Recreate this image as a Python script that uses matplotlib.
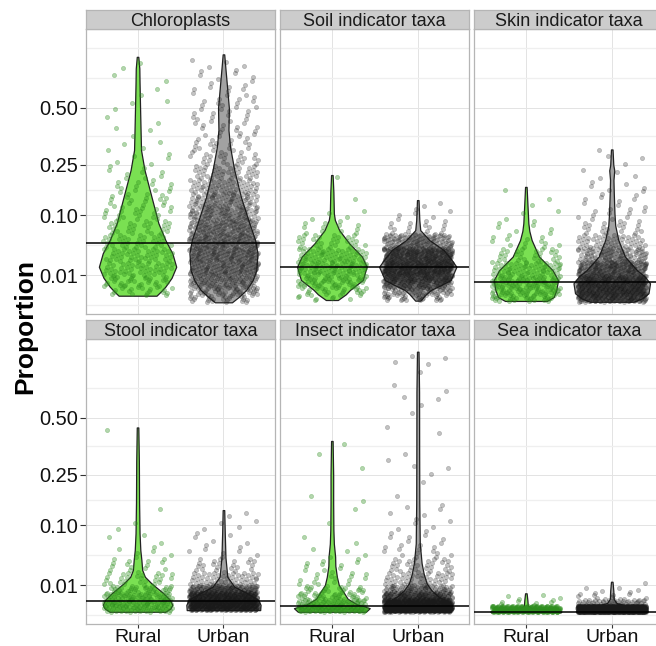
import numpy as np
import matplotlib.pyplot as plt
from matplotlib.ticker import FixedLocator

plt.rcParams['font.family'] = ['Liberation Sans', 'DejaVu Sans']

# facets / groups
facets = ['Chloroplasts', 'Soil indicator taxa', 'Skin indicator taxa',
          'Stool indicator taxa', 'Insect indicator taxa', 'Sea indicator taxa']
groups = ['Rural', 'Urban']
y_ticks = [0.01, 0.10, 0.25, 0.50]
y_tick_labels = ['0.01', '0.10', '0.25', '0.50']

# horizontal reference line (overall median) per facet
facet_median = [0.0462, 0.0169, 0.00543, 0.00177, 0.000625, 0.000004]

# abundance bins (proportion) and number of samples falling in each bin
bin_edges = [0, 0.000625, 0.0025, 0.005625, 0.01, 0.0225, 0.04, 0.0625, 0.09,
             0.1225, 0.16, 0.2025, 0.25, 0.3025, 0.36, 0.4225, 0.49, 0.5625,
             0.64, 0.7225, 0.81, 0.9025]

chloro_rural_n = [0, 14, 17, 19, 44, 42, 33, 26, 21, 17, 13, 9, 5, 4, 3, 2, 3, 2, 2, 2, 0]
chloro_urban_n = [22, 34, 45, 51, 113, 117, 110, 96, 81, 63, 50, 39, 24, 18, 14, 14, 13, 10, 7, 4, 0]
soil_rural_n = [7, 17, 27, 32, 70, 55, 29, 12, 4, 1, 0, 1, 0, 0, 0, 0, 0, 0, 0, 0, 0]
soil_urban_n = [20, 43, 86, 122, 290, 236, 110, 15, 6, 2, 0, 0, 0, 0, 0, 0, 0, 0, 0, 0, 0]
skin_rural_n = [25, 38, 40, 39, 60, 28, 13, 7, 3, 2, 1, 0, 0, 0, 0, 0, 0, 0, 0, 0, 0]
skin_urban_n = [110, 148, 149, 130, 173, 86, 47, 20, 12, 8, 6, 4, 3, 1, 0, 0, 0, 0, 0, 0, 0]
stool_rural_n = [52, 59, 47, 31, 28, 14, 6, 3, 2, 1, 0, 0, 0, 0, 0, 1, 0, 0, 0, 0, 0]
stool_urban_n = [175, 267, 200, 104, 50, 22, 8, 5, 4, 2, 0, 0, 0, 0, 0, 0, 0, 0, 0, 0, 0]
insect_rural_n = [100, 55, 30, 20, 16, 10, 4, 2, 1, 1, 2, 0, 1, 1, 1, 0, 0, 0, 0, 0, 0]
insect_urban_n = [330, 280, 130, 60, 45, 30, 14, 8, 5, 5, 1, 1, 3, 2, 0, 2, 1, 3, 2, 1, 4]
sea_rural_n = [250, 8, 3, 0, 0, 0, 0, 0, 0, 0, 0, 0, 0, 0, 0, 0, 0, 0, 0, 0, 0]
sea_urban_n = [880, 55, 10, 4, 1, 0, 0, 0, 0, 0, 0, 0, 0, 0, 0, 0, 0, 0, 0, 0, 0]

# violin density profiles: levels (proportion) and relative width (1 = full width)
chloro_rural_lv = [0.000625, 0.0016, 0.003364, 0.0081, 0.0169, 0.03204, 0.05153, 0.08294,
                   0.1475, 0.2314, 0.3069, 0.3919, 0.4998, 0.6336, 0.7225, 0.7957]
chloro_rural_w = [0.49, 0.60, 0.72, 0.88, 1.0, 0.90, 0.72, 0.54, 0.36, 0.18, 0.09, 0.078,
                  0.065, 0.052, 0.046, 0.02]
chloro_urban_lv = [0.000001, 0.0004, 0.002116, 0.0064, 0.01392, 0.03204, 0.05153, 0.08294,
                   0.1475, 0.2314, 0.3204, 0.3919, 0.4998, 0.6336, 0.7327, 0.8118]
chloro_urban_w = [0.22, 0.39, 0.59, 0.75, 0.85, 0.88, 0.82, 0.67, 0.45, 0.28, 0.17, 0.13,
                  0.14, 0.085, 0.047, 0.02]
soil_rural_lv = [0.0000884, 0.0009, 0.002116, 0.006724, 0.0169, 0.02789, 0.04623, 0.06917,
                 0.09, 0.105, 0.16, 0.2144]
soil_rural_w = [0.155, 0.36, 0.47, 0.80, 0.90, 0.78, 0.45, 0.19, 0.078, 0.052, 0.04, 0.02]
soil_urban_lv = [0.000049, 0.0009, 0.002116, 0.004225, 0.006724, 0.0169, 0.0256, 0.03648,
                 0.05153, 0.06917, 0.09, 0.1384]
soil_urban_w = [0.065, 0.21, 0.34, 0.62, 0.85, 1.0, 0.85, 0.67, 0.30, 0.065, 0.04, 0.02]
skin_rural_lv = [0.000036, 0.0004, 0.002116, 0.006724, 0.01392, 0.02789, 0.05153, 0.0676,
                 0.08294, 0.1211, 0.1764]
skin_rural_w = [0.54, 0.72, 0.79, 0.83, 0.69, 0.34, 0.15, 0.09, 0.065, 0.044, 0.02]
skin_urban_lv = [0.000009, 0.000225, 0.001156, 0.0049, 0.009025, 0.01392, 0.02789, 0.05153,
                 0.0784, 0.105, 0.16, 0.198, 0.2304, 0.25, 0.3091]
skin_urban_w = [0.56, 0.78, 0.95, 0.99, 0.85, 0.65, 0.34, 0.17, 0.09, 0.07, 0.052, 0.044,
                0.065, 0.04, 0.02]
stool_rural_lv = [0.000009, 0.000225, 0.000784, 0.002116, 0.0049, 0.01124, 0.0169, 0.02403,
                  0.0361, 0.05153, 0.08294, 0.16, 0.3025, 0.4516]
stool_rural_w = [0.72, 0.85, 0.90, 0.84, 0.67, 0.36, 0.19, 0.12, 0.10, 0.072, 0.052, 0.04,
                 0.034, 0.02]
stool_urban_lv = [0.000081, 0.000784, 0.002116, 0.0049, 0.008836, 0.0169, 0.04, 0.08294, 0.1384]
stool_urban_w = [0.95, 0.96, 0.90, 0.62, 0.28, 0.10, 0.052, 0.034, 0.02]
insect_rural_lv = [0.000009, 0.000256, 0.0009, 0.0025, 0.0049, 0.01, 0.0169, 0.0289,
                   0.04121, 0.0625, 0.09, 0.16, 0.25, 0.3881]
insect_rural_w = [0.88, 0.98, 0.65, 0.41, 0.32, 0.18, 0.13, 0.09, 0.085, 0.052, 0.04, 0.034,
                  0.034, 0.02]
insect_urban_lv = [0.000009, 0.000256, 0.001156, 0.003364, 0.0064, 0.01124, 0.0196, 0.03204,
                   0.063, 0.16, 0.36, 0.64, 0.8968]
insect_urban_w = [0.85, 0.90, 0.85, 0.54, 0.36, 0.23, 0.155, 0.10, 0.052, 0.04, 0.036, 0.034,
                  0.02]
sea_rural_lv = [0.00000025, 0.000016, 0.000064, 0.000144, 0.000256, 0.000625, 0.002025, 0.0049]
sea_rural_w = [0.90, 0.92, 0.85, 0.50, 0.15, 0.05, 0.04, 0.02]
sea_urban_lv = [0.00000025, 0.000025, 0.000144, 0.0004, 0.000784, 0.001225, 0.0025, 0.0064,
                0.01254]
sea_urban_w = [0.90, 0.93, 0.88, 0.60, 0.30, 0.12, 0.05, 0.04, 0.02]

counts = [(chloro_rural_n, chloro_urban_n), (soil_rural_n, soil_urban_n),
          (skin_rural_n, skin_urban_n), (stool_rural_n, stool_urban_n),
          (insect_rural_n, insect_urban_n), (sea_rural_n, sea_urban_n)]
profiles = [((chloro_rural_lv, chloro_rural_w), (chloro_urban_lv, chloro_urban_w)),
            ((soil_rural_lv, soil_rural_w), (soil_urban_lv, soil_urban_w)),
            ((skin_rural_lv, skin_rural_w), (skin_urban_lv, skin_urban_w)),
            ((stool_rural_lv, stool_rural_w), (stool_urban_lv, stool_urban_w)),
            ((insect_rural_lv, insect_rural_w), (insect_urban_lv, insect_urban_w)),
            ((sea_rural_lv, sea_rural_w), (sea_urban_lv, sea_urban_w))]

violin_fill = ['#7ae052', '#a2a2a2']
point_col = ['#2f8f1f', '#1a1a1a']
point_alpha = [0.36, 0.26]


def fwd(v):
    v = np.asarray(v, dtype=float)
    return np.sign(v) * np.sqrt(np.abs(v))


def inv(v):
    v = np.asarray(v, dtype=float)
    return np.sign(v) * v ** 2


# minor grid like ggplot (midpoints in sqrt space)
s_major = np.sqrt(y_ticks)
bd = s_major[1] - s_major[0]
ext = np.concatenate([[s_major[0] - bd], s_major, [s_major[-1] + bd]])
s_minor = np.concatenate([(ext[:-1] + ext[1:]) / 2, [ext[-1]]])
y_minor = inv(s_minor)

s_edges = np.sqrt(bin_edges)

W, H = 656, 646
fig = plt.figure(figsize=(W / 100, H / 100), dpi=100)
col_left = [86.0, 280.3, 474.3]
row_top = [29.3, 339.3]
pw, ph, sh = 189.0, 285.0, 19.3
border = '#b5b5b5'

for i, name in enumerate(facets):
    r, c = divmod(i, 3)
    ax = fig.add_axes([col_left[c] / W, 1 - (row_top[r] + ph) / H, pw / W, ph / H])
    st = fig.add_axes([col_left[c] / W, 1 - row_top[r] / H, pw / W, sh / H])

    ax.set_yscale('function', functions=(fwd, inv))
    ax.set_xlim(0.4, 2.6)
    ax.set_ylim(-(0.0425 ** 2), 0.992 ** 2)
    ax.set_yticks(y_ticks)
    ax.yaxis.set_minor_locator(FixedLocator(y_minor))
    ax.set_xticks([1, 2])
    ax.set_axisbelow(True)
    ax.grid(which='major', color='#e3e3e3', lw=0.7)
    ax.grid(which='minor', axis='y', color='#efefef', lw=0.9)
    ax.tick_params(which='minor', length=0)
    for sp in ax.spines.values():
        sp.set_color(border)
        sp.set_linewidth(0.9)

    if c == 0:
        ax.set_yticklabels(y_tick_labels)
        ax.tick_params(axis='y', which='major', length=4.3, width=0.8, color='#333333',
                       pad=1.5, labelsize=14.4, labelcolor='#111111')
    else:
        ax.tick_params(axis='y', which='major', length=0, labelleft=False)
    if r == 1:
        ax.set_xticklabels(groups)
        ax.tick_params(axis='x', length=3.2, width=0.8, color='#333333', pad=0.3,
                       labelsize=14, labelcolor='#111111')
    else:
        ax.tick_params(axis='x', length=0, labelbottom=False)

    for g in range(2):
        xc = g + 1
        lv, w = profiles[i][g]
        hw = 0.45 * np.array(w)
        ax.fill_betweenx(lv, xc - hw, xc + hw, facecolor=violin_fill[g],
                         edgecolor='#222222', lw=0.9, zorder=2)

        s_lo, s_hi = np.sqrt(lv[0]), np.sqrt(lv[-1])
        xs, ys = [], []
        for b, n in enumerate(counts[i][g]):
            if n == 0:
                continue
            a = max(s_edges[b], s_lo)
            e = min(s_edges[b + 1], s_hi)
            k = np.arange(n)
            ys.append(a + (e - a) * ((0.5 + k * 0.5698402910) % 1.0))
            xs.append(xc - 0.4 + 0.8 * ((0.5 + 0.37 * b + k * 0.7548776662) % 1.0))
        xs = np.concatenate(xs)
        ys = np.concatenate(ys)
        ax.scatter(xs, ys ** 2, s=9, color=point_col[g], alpha=point_alpha[g],
                   linewidths=0.5, zorder=3)

    ax.axhline(facet_median[i], color='black', lw=1.1, zorder=4)

    st.set_facecolor('#cccccc')
    st.set_xticks([])
    st.set_yticks([])
    for sp in st.spines.values():
        sp.set_color(border)
        sp.set_linewidth(0.9)
    st.text(0.5, 0.16, name, transform=st.transAxes, ha='center', va='baseline',
            fontsize=13, color='#1a1a1a')

fig.text(25.5 / W, 1 - 326 / H, 'Proportion', rotation=90, ha='center', va='center',
         fontsize=19, fontweight='bold')

fig.savefig('out.png', dpi=100)
